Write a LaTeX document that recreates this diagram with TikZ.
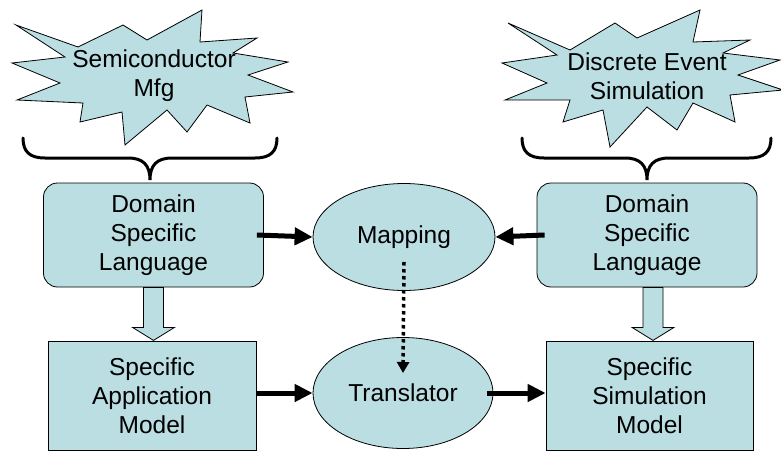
\documentclass[tikz,border=0pt]{standalone}
\usepackage{fontspec}
\setmainfont{Liberation Sans}
\usetikzlibrary{arrows.meta,shapes.geometric,calc}
\definecolor{paleblue}{RGB}{186,222,226}
\tikzset{
  txt/.style={font=\fontsize{24.5}{29}\selectfont, align=center, inner sep=0pt},
  box/.style={txt, draw, fill=paleblue, line width=0.8pt},
  dslbox/.style={box, rounded corners=14pt, minimum width=220pt, minimum height=104pt},
  modelbox/.style={box, minimum width=208pt, minimum height=109pt},
  oval/.style={box, ellipse},
  burst/.style={draw, fill=paleblue, line width=0.8pt, line join=miter},
  hollow/.style={draw, fill=paleblue, line width=0.8pt},
  fatarrow/.style={line width=5pt, -{Triangle[length=18pt,width=17pt]}},
  dotarrow/.style={line width=3.5pt, dash pattern=on 3.5pt off 3.5pt, -{Triangle[length=11pt,width=12pt]}},
  brace/.style={line width=3pt, line cap=round}
}
\begin{document}
\begin{tikzpicture}[x=1pt,y=-1pt]
  \useasboundingbox (0,0) rectangle (781,452);
  % the two bursts on top
  \draw[burst] (16,25) -- (78,47) -- (123,25) -- (147,40) -- (202,10) -- (200,42)
    -- (257,38) -- (233,53) -- (288,62) -- (248,75) -- (293,92) -- (245,97)
    -- (250,123) -- (207,105) -- (187,132) -- (167,110) -- (125,145) -- (122,112)
    -- (80,122) -- (83,103) -- (17,100) -- (60,83) -- (12,63) -- (65,57) -- cycle;
  \draw[burst] (508,23) -- (570,50) -- (615,23) -- (637,38) -- (700,10) -- (693,42)
    -- (750,40) -- (723,53) -- (780,60) -- (738,75) -- (783,90) -- (730,95)
    -- (735,122) -- (693,103) -- (677,130) -- (647,107) -- (610,147) -- (603,110)
    -- (563,122) -- (570,100) -- (505,100) -- (547,83) -- (502,63) -- (557,55) -- cycle;
  \node[txt] (semi) at (154,76) {Semiconductor\\Mfg};
  \node[txt] (des) at (647,76) {Discrete Event\\Simulation};
  % braces
  \draw[brace] (23,138) .. controls (23,152) and (30,158) .. (45,158) -- (128,158)
    .. controls (143,158) and (150,165) .. (150,180)
    .. controls (150,165) and (157,158) .. (172,158) -- (255,158)
    .. controls (270,158) and (277,152) .. (277,138);
  \draw[brace] (522,138) .. controls (522,152) and (529,158) .. (544,158) -- (625,158)
    .. controls (640,158) and (647,165) .. (647,180)
    .. controls (647,165) and (654,158) .. (669,158) -- (749,158)
    .. controls (764,158) and (771,152) .. (771,138);
  % nodes
  \node[dslbox] (dslL) at (153.5,235) {Domain\\Specific\\Language};
  \node[dslbox] (dslR) at (647,235) {Domain\\Specific\\Language};
  \node[modelbox] (samL) at (152,395.5) {Specific\\Application\\Model};
  \node[modelbox, minimum width=207pt] (ssmR) at (649.5,395.5) {Specific\\Simulation\\Model};
  \node[oval, minimum width=182pt, minimum height=107pt] (map) at (404,237) {Mapping};
  \node[oval, minimum width=180pt, minimum height=111pt] (trans) at (403,393) {Translator};
  \coordinate (dotA) at ($(map)+(0,25)$);
  \coordinate (dotB) at ($(trans)+(0,-20)$);
  % hollow arrows down
  \draw[hollow] ([xshift=-10pt]dslL.south) -- ++(0,40) -- ++(-11,0) -- ++(21,13)
    -- ++(21,-13) -- ++(-11,0) -- ++(0,-40) -- cycle;
  \draw[hollow] ([xshift=-4pt]dslR.south) -- ++(0,40) -- ++(-11,0) -- ++(21,13)
    -- ++(21,-13) -- ++(-11,0) -- ++(0,-40) -- cycle;
  % connectors
  \draw[fatarrow] ([xshift=-7pt]dslL.east) -- (map.west);
  \draw[fatarrow] ([xshift=8pt]dslR.west) -- (map.east);
  \draw[fatarrow] (samL.east |- trans) -- (trans.west);
  \draw[fatarrow] ([xshift=-6pt]trans.east) -- (ssmR.west |- trans);
  \draw[dotarrow] (dotA) -- (dotB);
\end{tikzpicture}
\end{document}
